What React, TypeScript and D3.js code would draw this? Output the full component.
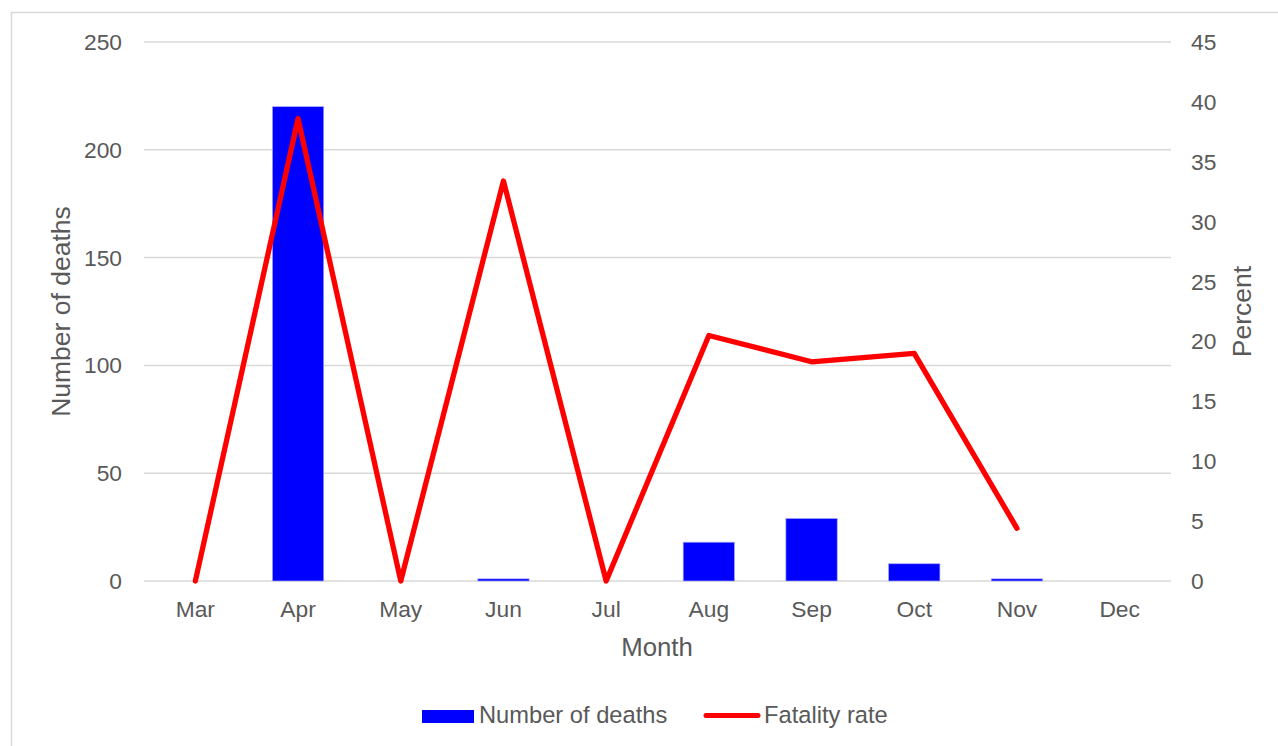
import React from "react";
import * as d3 from "d3";

const months = ["Mar", "Apr", "May", "Jun", "Jul", "Aug", "Sep", "Oct", "Nov", "Dec"];
const deaths: (number | null)[] = [0, 220, 0, 1, 0, 18, 29, 8, 1, null];
const fatalityRate: (number | null)[] = [0, 38.6, 0, 33.4, 0, 20.5, 18.3, 19.0, 4.4, null];
const leftTicks = [0, 50, 100, 150, 200, 250];
const rightTicks = [0, 5, 10, 15, 20, 25, 30, 35, 40, 45];

const W = 1278;
const H = 746;
const plot = { left: 144, right: 1171, top: 42, bottom: 581 };
const textColor = "#595959";
const font = "'Liberation Sans', Arial, sans-serif";

export default function App() {
  const x = d3.scaleBand<string>().domain(months).range([plot.left, plot.right]).paddingInner(0.5).paddingOuter(0.25);
  const xc = (m: string) => (x(m) as number) + x.bandwidth() / 2;
  const yL = d3.scaleLinear().domain([0, 250]).range([plot.bottom, plot.top]);
  const yR = d3.scaleLinear().domain([0, 45]).range([plot.bottom, plot.top]);

  const lineData = months
    .map((m, i) => ({ m, v: fatalityRate[i] }))
    .filter((d) => d.v !== null) as { m: string; v: number }[];
  const line = d3
    .line<{ m: string; v: number }>()
    .x((d) => xc(d.m))
    .y((d) => yR(d.v));

  return (
    <svg
      width={W}
      height={H}
      style={{ position: "absolute", left: 0, top: 0, display: "block", background: "#fff" }}
      fontFamily={font}
    >
      <rect x={11.5} y={12.5} width={W} height={H} fill="#fff" stroke="#d9d9d9" strokeWidth={1.5} />
      {leftTicks.map((t) => (
        <line key={"g" + t} x1={plot.left} x2={plot.right} y1={yL(t)} y2={yL(t)} stroke="#d9d9d9" strokeWidth={1.5} />
      ))}
      {leftTicks.map((t) => (
        <text key={"l" + t} x={122} y={yL(t)} dy="0.35em" textAnchor="end" fontSize={22.8} fill={textColor}>
          {t}
        </text>
      ))}
      {rightTicks.map((t) => (
        <text key={"r" + t} x={1191} y={yR(t)} dy="0.35em" textAnchor="start" fontSize={22.8} fill={textColor}>
          {t}
        </text>
      ))}
      {months.map((m, i) =>
        deaths[i] !== null && (deaths[i] as number) > 0 ? (
          <rect
            key={"b" + m}
            x={x(m)}
            y={yL(deaths[i] as number)}
            width={x.bandwidth()}
            height={yL(0) - yL(deaths[i] as number)}
            fill="#0000ff"
            stroke="#a8a8ff"
            strokeWidth={0.7}
          />
        ) : null
      )}
      <path d={line(lineData) || ""} fill="none" stroke="#ff0000" strokeWidth={5.3} strokeLinecap="round" strokeLinejoin="round" />
      {months.map((m) => (
        <text key={"x" + m} x={xc(m)} y={617} textAnchor="middle" fontSize={22.8} fill={textColor}>
          {m}
        </text>
      ))}
      <text x={657} y={656} textAnchor="middle" fontSize={25.8} fill={textColor}>
        Month
      </text>
      <text transform={`translate(70,${(plot.top + plot.bottom) / 2}) rotate(-90)`} textAnchor="middle" fontSize={26.5} fill={textColor}>
        Number of deaths
      </text>
      <text transform={`translate(1251,${(plot.top + plot.bottom) / 2}) rotate(-90)`} textAnchor="middle" fontSize={26.5} fill={textColor}>
        Percent
      </text>
      <rect x={422} y={710} width={52} height={13} fill="#0000ff" />
      <text x={479} y={723} fontSize={23.7} fill={textColor}>
        Number of deaths
      </text>
      <line x1={706} x2={758} y1={715.5} y2={715.5} stroke="#ff0000" strokeWidth={5} strokeLinecap="round" />
      <text x={764} y={723} fontSize={23.7} fill={textColor}>
        Fatality rate
      </text>
    </svg>
  );
}
